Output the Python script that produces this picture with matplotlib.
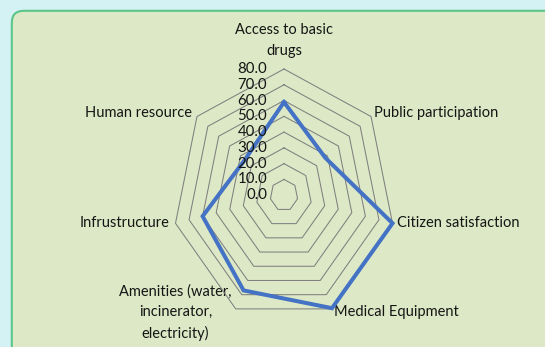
import numpy as np
import matplotlib
matplotlib.use("Agg")
import matplotlib.pyplot as plt
from matplotlib.patches import FancyBboxPatch

categories = ["Access to basic\ndrugs", "Public participation", "Citizen satisfaction",
              "Medical Equipment", "Amenities (water,\nincinerator,\nelectricity)",
              "Infrustructure", "Human resource"]
values = [59, 38, 80, 79.5, 67, 60, 36]
ring_values = [10, 20, 30, 40, 50, 60, 70, 80]
tick_values = [0, 10, 20, 30, 40, 50, 60, 70, 80]
tick_labels = ["0.0", "10.0", "20.0", "30.0", "40.0", "50.0", "60.0", "70.0", "80.0"]

W, H = 545, 347
fig = plt.figure(figsize=(W / 100, H / 100), dpi=100)
fig.patch.set_facecolor("#d4f1f3")

FONT = ["Lato", "DejaVu Sans"]
TXT = "#151515"

# background / label layer in pixel coordinates
bg = fig.add_axes([0, 0, 1, 1])
bg.set_xlim(0, W)
bg.set_ylim(H, 0)
bg.axis("off")
panel = FancyBboxPatch((11.8, 10.8), 600, 400, boxstyle="round,pad=0,rounding_size=12",
                       facecolor="#dde9c6", edgecolor="#5cc68a", linewidth=1.5)
bg.add_patch(panel)

# radar axes: value units, horizontally compressed like the reference
cx, cy, Rx, Ry = 284.0, 195.2, 111.3, 126.2
wpx, hpx = 200 * Rx / 80, 200 * Ry / 80
left = (cx - wpx / 2) / W
bottom = (H - (cy + hpx / 2)) / H
ax = fig.add_axes([left, bottom, wpx / W, hpx / H])
ax.set_xlim(-100, 100)
ax.set_ylim(-100, 100)
ax.axis("off")
ax.patch.set_alpha(0)

n = len(categories)
ang = np.pi / 2 - np.arange(n) * 2 * np.pi / n
ca, sa = np.cos(ang), np.sin(ang)

for r in ring_values:
    xs = np.append(r * ca, r * ca[0])
    ys = np.append(r * sa, r * sa[0])
    ax.plot(xs, ys, color="#7f7f7f", lw=0.75, zorder=1, clip_on=False)

v = np.array(values)
ax.plot(np.append(v * ca, v[0] * ca[0]), np.append(v * sa, v[0] * sa[0]),
        color="#4472c4", lw=2.9, solid_joinstyle="miter", zorder=3, clip_on=False)

for tv, tl in zip(tick_values, tick_labels):
    ax.text(-12.2, tv, tl, ha="right", va="center", fontsize=10.8, family=FONT,
            color=TXT, zorder=4, clip_on=False)

# category labels (pixel positions)
lab_pos = [
    (284, 40.5, "center"),
    (374.5, 112.7, "left"),
    (397, 223.3, "left"),
    (334, 312.3, "left"),
    (175.5, 312.7, "center"),
    (169.5, 223.0, "right"),
    (192, 112.7, "right"),
]
for cat, (x, y, ha) in zip(categories, lab_pos):
    bg.text(x, y, cat, ha=ha, va="center", multialignment="center", fontsize=10.5,
            family=FONT, color=TXT, linespacing=1.55, zorder=5)

fig.savefig("out.png", dpi=100, facecolor=fig.get_facecolor())
